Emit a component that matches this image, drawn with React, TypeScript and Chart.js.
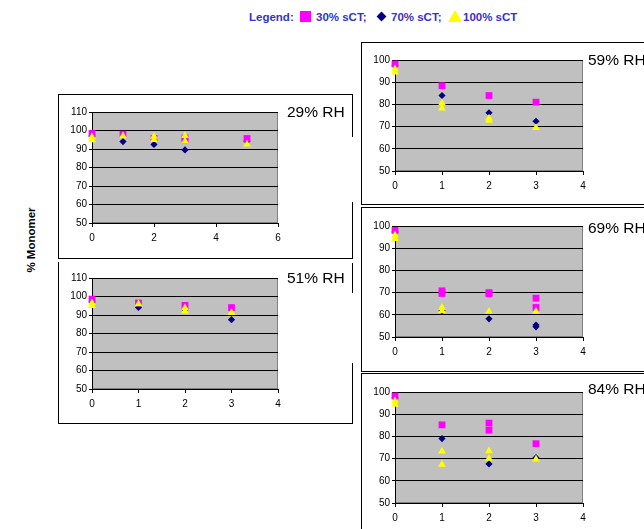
import React, { useEffect, useRef } from "react";
import { Chart, registerables } from "chart.js";
Chart.register(...registerables);

// ---- Data (x = time point, y = % monomer) ----
// 29% RH
const rh29PinkX = [0, 1, 2, 3, 3, 5];
const rh29PinkY = [98.4, 98, 95.7, 96, 94.8, 95.7];
const rh29NavyX = [0, 1, 2, 3, 5];
const rh29NavyY = [97, 94, 92.5, 89.5, 94.2];
const rh29YellowX = [0, 0, 1, 2, 2, 3, 3, 5];
const rh29YellowY = [96.5, 94.8, 97, 96.8, 95, 97.2, 94.2, 92.6];
// 51% RH
const rh51PinkX = [0, 1, 2, 3];
const rh51PinkY = [98.6, 96.5, 95.2, 94];
const rh51NavyX = [0, 1, 2, 3];
const rh51NavyY = [97, 94.1, 92.9, 87.5];
const rh51YellowX = [0, 0, 1, 2, 2, 3];
const rh51YellowY = [96.5, 95, 96, 93.8, 92, 91.2];
// 59% RH
const rh59PinkX = [0, 1, 2, 3];
const rh59PinkY = [98.2, 88.4, 84, 81];
const rh59NavyX = [0, 1, 2, 3];
const rh59NavyY = [97.5, 84, 76.2, 72.4];
const rh59YellowX = [0, 0, 1, 1, 2, 2, 3];
const rh59YellowY = [96, 94.5, 80.5, 78.3, 73.8, 72.7, 69.5];
// 69% RH
const rh69PinkX = [0, 1, 1, 2, 2, 3, 3];
const rh69PinkY = [98, 70.8, 69.6, 70, 69.5, 67.5, 63.3];
const rh69NavyX = [0, 1, 2, 3, 3];
const rh69NavyY = [97.3, 61.8, 58.2, 55.4, 54.6];
const rh69YellowX = [0, 0, 1, 1, 2, 3];
const rh69YellowY = [95.8, 94.3, 63.3, 61.8, 61.5, 61.5];
// 84% RH
const rh84PinkX = [0, 1, 2, 2, 3];
const rh84PinkY = [98.2, 85.2, 86, 82.8, 76.7];
const rh84NavyX = [0, 1, 2, 3];
const rh84NavyY = [97.4, 79, 67.6, 70.4];
const rh84YellowX = [0, 0, 1, 1, 2, 2, 3];
const rh84YellowY = [95.9, 94.4, 73.3, 67.3, 73.4, 70, 69.7];

const panelTitles = ["29% RH", "51% RH", "59% RH", "69% RH", "84% RH"];
const seriesNames = ["30% sCT", "70% sCT", "100% sCT"];
const yTitle = "% Monomer";

const PINK = "#ff00ff";
const NAVY = "#000080";
const YELLOW = "#ffff00";
const FONT = "'Liberation Sans', Arial, sans-serif";

const zip = (xs: number[], ys: number[]) => xs.map((x, i) => ({ x, y: ys[i] }));

const bgPlugin = {
  id: "plotBg",
  beforeDraw(chart: any) {
    const { ctx, chartArea: a } = chart;
    ctx.save();
    ctx.fillStyle = "#c0c0c0";
    ctx.fillRect(a.left, a.top, a.right - a.left, a.bottom - a.top);
    ctx.strokeStyle = "#808080";
    ctx.lineWidth = 1;
    ctx.strokeRect(a.left + 0.5, a.top + 0.5, a.right - a.left - 1, a.bottom - a.top - 1);
    ctx.restore();
  },
};

type PanelProps = {
  left: number; top: number; width: number; height: number;
  padTop: number; padRight: number; yAxisW: number; xAxisH: number;
  yMin: number; yMax: number; xMax: number; xStep: number;
  pink: { x: number; y: number }[]; navy: { x: number; y: number }[]; yellow: { x: number; y: number }[];
};

function Panel(p: PanelProps) {
  const ref = useRef<HTMLCanvasElement | null>(null);
  useEffect(() => {
    if (!ref.current) return;
    const tickFont = { family: FONT, size: 10 };
    const chart = new Chart(ref.current, {
      type: "scatter",
      data: {
        datasets: [
          { label: seriesNames[2], data: p.yellow, pointStyle: "triangle", pointRadius: 4.5, backgroundColor: YELLOW, borderColor: YELLOW, borderWidth: 0, clip: false, order: 0 } as any,
          { label: seriesNames[0], data: p.pink, pointStyle: "rect", pointRadius: 4.8, backgroundColor: PINK, borderColor: PINK, borderWidth: 0, clip: false, order: 1 } as any,
          { label: seriesNames[1], data: p.navy, pointStyle: "rectRot", pointRadius: 3.6, backgroundColor: NAVY, borderColor: NAVY, borderWidth: 0, clip: false, order: 2 } as any,
        ],
      },
      options: {
        animation: false,
        responsive: false,
        devicePixelRatio: 1,
        events: [],
        layout: { padding: { top: p.padTop, right: p.padRight, left: 0, bottom: 0 } },
        plugins: { legend: { display: false }, tooltip: { enabled: false } },
        scales: {
          x: {
            type: "linear", min: 0, max: p.xMax,
            ticks: { stepSize: p.xStep, color: "#000", font: tickFont, padding: 5, maxRotation: 0 },
            grid: { drawOnChartArea: false, drawTicks: true, tickLength: 4, color: "#000" },
            border: { color: "#000", width: 1 },
            afterFit: (s: any) => { s.height = p.xAxisH; },
          },
          y: {
            type: "linear", min: p.yMin, max: p.yMax,
            ticks: { stepSize: 10, color: "#000", font: tickFont, padding: 2 },
            grid: { color: "#000", tickLength: 3 },
            border: { color: "#000", width: 1 },
            afterFit: (s: any) => { s.width = p.yAxisW; },
          },
        },
      } as any,
      plugins: [bgPlugin],
    });
    return () => chart.destroy();
  }, []);
  return (
    <canvas
      ref={ref}
      width={p.width}
      height={p.height}
      style={{ position: "absolute", left: p.left, top: p.top, width: p.width, height: p.height }}
    />
  );
}

const Line = ({ x1, y1, x2, y2 }: { x1: number; y1: number; x2: number; y2: number }) => (
  <div style={{ position: "absolute", left: x1, top: y1, width: Math.max(1, x2 - x1), height: Math.max(1, y2 - y1), background: "#000" }} />
);

const Title = ({ text, left, cy }: { text: string; left: number; cy: number }) => (
  <div style={{ position: "absolute", left, top: cy - 9, height: 18, lineHeight: "18px", fontFamily: FONT, fontSize: 15.5, color: "#000", whiteSpace: "nowrap" }}>{text}</div>
);

export default function App() {
  const legendText = { position: "absolute" as const, top: 10, lineHeight: "14px", fontFamily: FONT, fontWeight: "bold" as const, fontSize: 11.5, color: "#3333cc", whiteSpace: "nowrap" as const };
  return (
    <div style={{ position: "absolute", left: 0, top: 0, width: 644, height: 529, overflow: "hidden", background: "#fff" }}>
      {/* Legend */}
      <div style={{ ...legendText, left: 249 }}>Legend:</div>
      <div style={{ position: "absolute", left: 300, top: 11, width: 11, height: 11, background: PINK }} />
      <div style={{ ...legendText, left: 316 }}>{seriesNames[0]};</div>
      <div style={{ position: "absolute", left: 378, top: 13, width: 7, height: 7, background: NAVY, transform: "rotate(45deg)" }} />
      <div style={{ ...legendText, left: 391 }}>{seriesNames[1]};</div>
      <div style={{ position: "absolute", left: 448, top: 10, width: 0, height: 0, borderLeft: "7px solid transparent", borderRight: "7px solid transparent", borderBottom: "12px solid " + YELLOW }} />
      <div style={{ ...legendText, left: 463 }}>{seriesNames[2]}</div>

      {/* Y axis title */}
      <div style={{ position: "absolute", left: 31 - 60, top: 240 - 8, width: 120, height: 16, lineHeight: "16px", textAlign: "center", fontFamily: FONT, fontWeight: "bold", fontSize: 11.5, color: "#000", transform: "rotate(-90deg)" }}>{yTitle}</div>

      {/* Left boxes */}
      <Line x1={58} y1={94} x2={353} y2={95} />
      <Line x1={58} y1={94} x2={59} y2={259} />
      <Line x1={58} y1={258} x2={353} y2={259} />
      <Line x1={352} y1={94} x2={353} y2={137} />
      <Line x1={352} y1={202} x2={353} y2={259} />

      <Line x1={58} y1={262} x2={59} y2={424} />
      <Line x1={58} y1={423} x2={353} y2={424} />
      <Line x1={352} y1={263} x2={353} y2={293} />
      <Line x1={352} y1={363} x2={353} y2={424} />

      {/* Right boxes */}
      <Line x1={361} y1={42} x2={644} y2={43} />
      <Line x1={361} y1={42} x2={362} y2={205} />
      <Line x1={361} y1={204} x2={644} y2={205} />

      <Line x1={361} y1={207} x2={644} y2={208} />
      <Line x1={361} y1={207} x2={362} y2={372} />
      <Line x1={361} y1={371} x2={644} y2={372} />

      <Line x1={361} y1={373} x2={644} y2={374} />
      <Line x1={361} y1={373} x2={362} y2={529} />

      {/* Panels */}
      <Panel left={58} top={95} width={230} height={162} padTop={17} padRight={10} yAxisW={34} xAxisH={34}
        yMin={50} yMax={110} xMax={6} xStep={2}
        pink={zip(rh29PinkX, rh29PinkY)} navy={zip(rh29NavyX, rh29NavyY)} yellow={zip(rh29YellowX, rh29YellowY)} />
      <Panel left={58} top={263} width={230} height={159} padTop={15} padRight={10} yAxisW={34} xAxisH={33}
        yMin={50} yMax={110} xMax={4} xStep={1}
        pink={zip(rh51PinkX, rh51PinkY)} navy={zip(rh51NavyX, rh51NavyY)} yellow={zip(rh51YellowX, rh51YellowY)} />
      <Panel left={362} top={43} width={231} height={159} padTop={17} padRight={10} yAxisW={33} xAxisH={31}
        yMin={50} yMax={100} xMax={4} xStep={1}
        pink={zip(rh59PinkX, rh59PinkY)} navy={zip(rh59NavyX, rh59NavyY)} yellow={zip(rh59YellowX, rh59YellowY)} />
      <Panel left={362} top={208} width={231} height={160} padTop={18} padRight={10} yAxisW={33} xAxisH={31}
        yMin={50} yMax={100} xMax={4} xStep={1}
        pink={zip(rh69PinkX, rh69PinkY)} navy={zip(rh69NavyX, rh69NavyY)} yellow={zip(rh69YellowX, rh69YellowY)} />
      <Panel left={362} top={374} width={231} height={154} padTop={18} padRight={10} yAxisW={33} xAxisH={25}
        yMin={50} yMax={100} xMax={4} xStep={1}
        pink={zip(rh84PinkX, rh84PinkY)} navy={zip(rh84NavyX, rh84NavyY)} yellow={zip(rh84YellowX, rh84YellowY)} />

      {/* Panel titles */}
      <Title text={panelTitles[0]} left={287} cy={112} />
      <Title text={panelTitles[1]} left={287} cy={278} />
      <Title text={panelTitles[2]} left={588} cy={60} />
      <Title text={panelTitles[3]} left={588} cy={228} />
      <Title text={panelTitles[4]} left={588} cy={389} />
    </div>
  );
}
